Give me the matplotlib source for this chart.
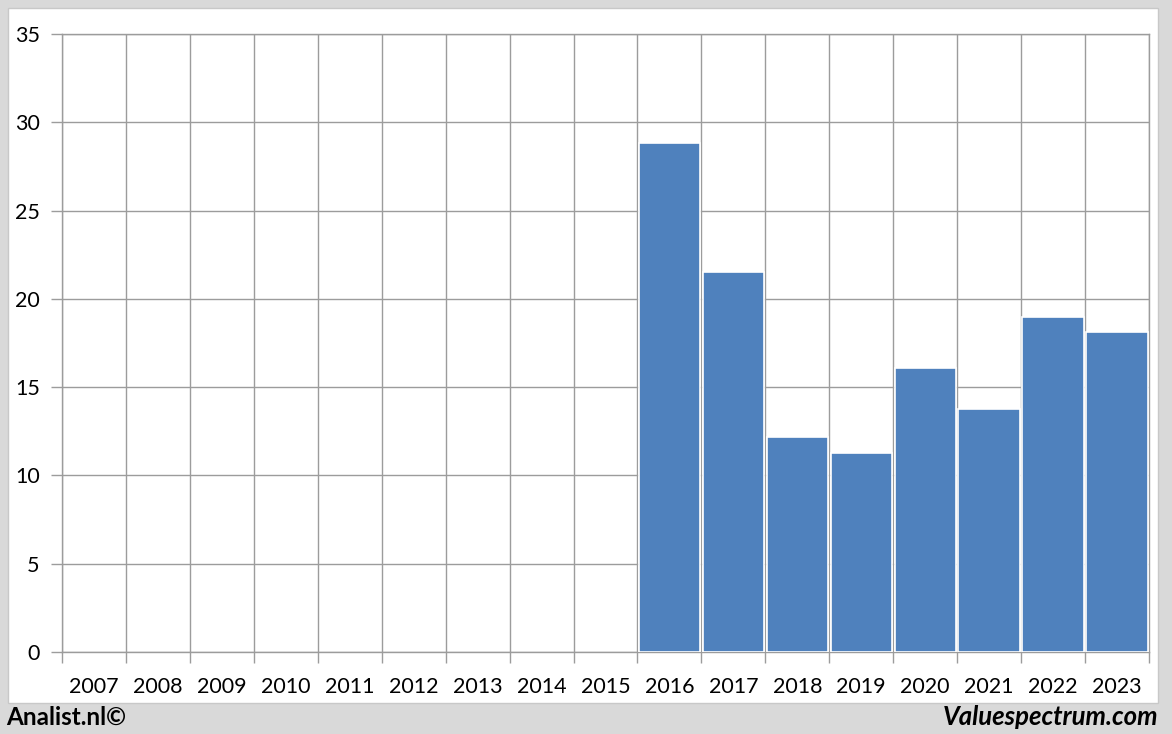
import numpy as np
import matplotlib.pyplot as plt
from matplotlib.patches import Rectangle

years = [str(y) for y in range(2007, 2024)]
values = [np.nan] * 9 + [28.83, 21.52, 12.18, 11.27, 16.08, 13.76, 18.97, 18.12]
y_ticks = [0, 5, 10, 15, 20, 25, 30, 35]

BAR_COLOR = "#4f81bd"
GRID_COLOR = "#9c9c9c"
W, H = 1172, 734

plt.rcParams["font.family"] = ["Lato", "DejaVu Sans"]

fig = plt.figure(figsize=(W / 100, H / 100), dpi=100)
fig.patch.set_facecolor("#d9d9d9")
fig.patches.append(Rectangle((8 / W, 1 - 703 / H), 1150 / W, 695 / H, transform=fig.transFigure,
                             facecolor="white", edgecolor="#c8c8c8", linewidth=1, zorder=0))

ax = fig.add_axes([62 / W, 1 - 652 / H, (1149 - 62) / W, (652 - 34) / H])
ax.set_facecolor("white")
ax.set_zorder(1)

pos = np.arange(len(years))
vals = np.asarray(values, dtype=float)
mask = ~np.isnan(vals)
ax.bar(pos[mask], vals[mask], width=0.96, color=BAR_COLOR, edgecolor="white", linewidth=1.2, zorder=3)

ax.set_xlim(-0.5, len(years) - 0.5)
ax.set_ylim(0, 35)
ax.set_yticks(y_ticks)
ax.set_yticklabels([str(t) for t in y_ticks], fontsize=15.5)
ax.set_xticks(pos)
ax.set_xticklabels(years, fontsize=15.5)
ax.set_xticks(np.arange(-0.5, len(years)), minor=True)

ax.tick_params(axis="x", which="major", length=0, pad=18)
ax.tick_params(axis="x", which="minor", length=8, color=GRID_COLOR, width=1)
ax.tick_params(axis="y", length=8, color=GRID_COLOR, width=1, pad=8)
ax.grid(axis="y", which="major", color=GRID_COLOR, linewidth=1, zorder=0)
ax.grid(axis="x", which="minor", color=GRID_COLOR, linewidth=1, zorder=0)
ax.grid(axis="x", which="major", visible=False)
for spine in ax.spines.values():
    spine.set_color(GRID_COLOR)
    spine.set_linewidth(1)

fig.text(6 / W, 1 - 717 / H, "Analist.nl\u00a9", fontsize=17.5, fontweight="bold",
         ha="left", va="center")
fig.text(1158 / W, 1 - 717 / H, "Valuespectrum.com", fontsize=18.5, fontweight="bold",
         style="italic", ha="right", va="center")

fig.savefig("out.png", dpi=100, facecolor=fig.get_facecolor())
